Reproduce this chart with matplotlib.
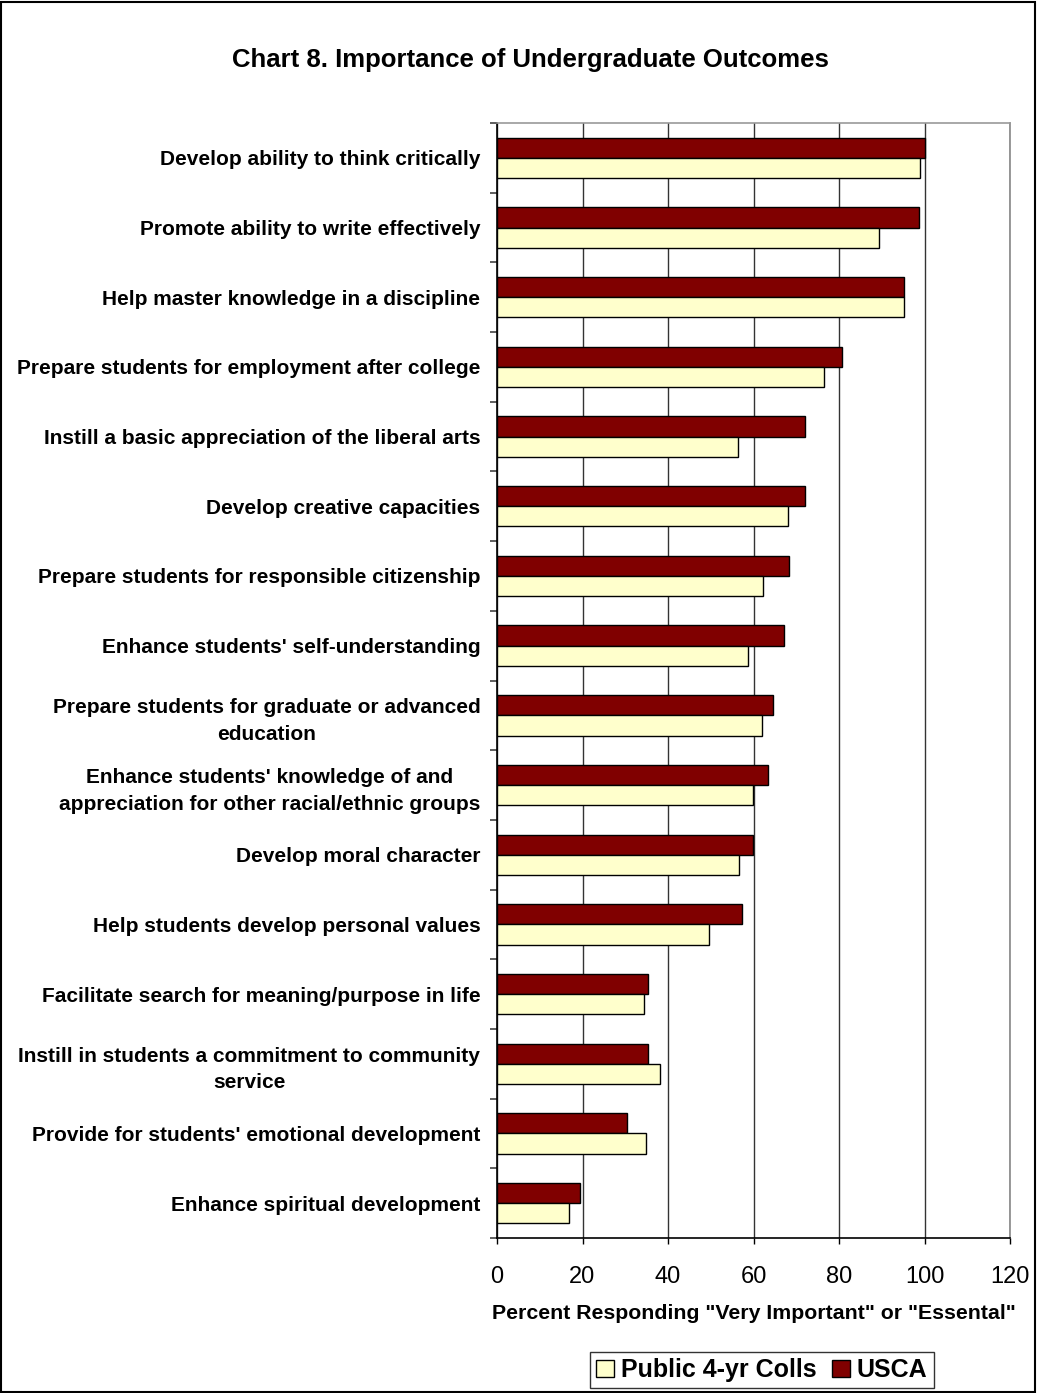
import numpy as np
import matplotlib.pyplot as plt
from matplotlib.patches import Rectangle

categories = [
    "Develop ability to think critically",
    "Promote ability to write effectively",
    "Help master knowledge in a discipline",
    "Prepare students for employment after college",
    "Instill a basic appreciation of the liberal arts",
    "Develop creative capacities",
    "Prepare students for responsible citizenship",
    "Enhance students' self-understanding",
    "Prepare students for graduate or advanced\neducation",
    "Enhance students' knowledge of and\nappreciation for other racial/ethnic groups",
    "Develop moral character",
    "Help students develop personal values",
    "Facilitate search for meaning/purpose in life",
    "Instill in students a commitment to community\nservice",
    "Provide for students' emotional development",
    "Enhance spiritual development",
]
usca = [100, 98.8, 95.3, 80.6, 72.1, 72.1, 68.4, 67.1, 64.6, 63.3, 59.8, 57.4, 35.4, 35.4, 30.4, 19.5]
public = [99.0, 89.3, 95.3, 76.5, 56.3, 68.0, 62.3, 58.6, 62.1, 59.8, 56.7, 49.5, 34.5, 38.2, 34.8, 16.9]
xticks = [0, 20, 40, 60, 80, 100, 120]

plt.rcParams['font.family'] = ['Liberation Sans', 'DejaVu Sans']

W, H = 1037, 1393
fig = plt.figure(figsize=(W / 100, H / 100), dpi=100)
ax = fig.add_axes([497 / W, 1 - 1238 / H, (1010 - 497) / W, (1238 - 123) / H])

y = np.arange(len(categories))
h = 0.29
ax.barh(y - h / 2, usca, height=h, color="#800000", edgecolor="black", linewidth=1, label="USCA", zorder=3)
ax.barh(y + h / 2, public, height=h, color="#FFFFCC", edgecolor="black", linewidth=1,
        label="Public 4-yr Colls", zorder=3)

ax.set_xlim(0, 120)
ax.set_ylim(len(categories) - 0.5, -0.5)
ax.set_xticks(xticks)
ax.set_xticklabels([str(t) for t in xticks], fontsize=17)
ax.tick_params(axis="x", direction="out", length=4, width=1, pad=16, colors="black")
ax.xaxis.grid(True, color="#333333", linewidth=1, zorder=0)

ax.set_yticks(y)
ax.set_yticklabels(categories, fontsize=15, fontweight="bold", linespacing=1.5)
for lab in ax.get_yticklabels():
    lab.set_multialignment("center")
ax.tick_params(axis="y", length=0, pad=12)
ax.set_yticks(np.arange(len(categories) + 1) - 0.5, minor=True)
ax.tick_params(axis="y", which="minor", length=5, width=1.2, direction="out", color="#444444")

ax.spines["left"].set_color("black")
ax.spines["bottom"].set_color("black")
ax.spines["top"].set_color("#999999")
ax.spines["right"].set_color("#888888")
for s in ax.spines.values():
    s.set_linewidth(1.2)

ax.set_xlabel('Percent Responding "Very Important" or "Essental"', fontsize=15.3,
              fontweight="bold", labelpad=12)

fig.text(530 / W, 1 - 60 / H, "Chart 8. Importance of Undergraduate Outcomes", ha="center", va="center",
         fontsize=18.5, fontweight="bold")

handles, labels = ax.get_legend_handles_labels()
leg = fig.legend(handles[::-1], labels[::-1], loc="center", bbox_to_anchor=(762 / W, 1 - 1370 / H),
                 ncol=2, prop={"weight": "bold", "size": 18}, frameon=True, fancybox=False,
                 edgecolor="black", handlelength=0.7, handleheight=0.7, handletextpad=0.3,
                 columnspacing=0.6, borderpad=0.25)
leg.get_frame().set_linewidth(1)

fig.patches.append(Rectangle((1 / W, 1 / H), (W - 3) / W, (H - 3) / H, transform=fig.transFigure,
                             fill=False, edgecolor="black", linewidth=1.5))

fig.savefig("out.png", dpi=100)
